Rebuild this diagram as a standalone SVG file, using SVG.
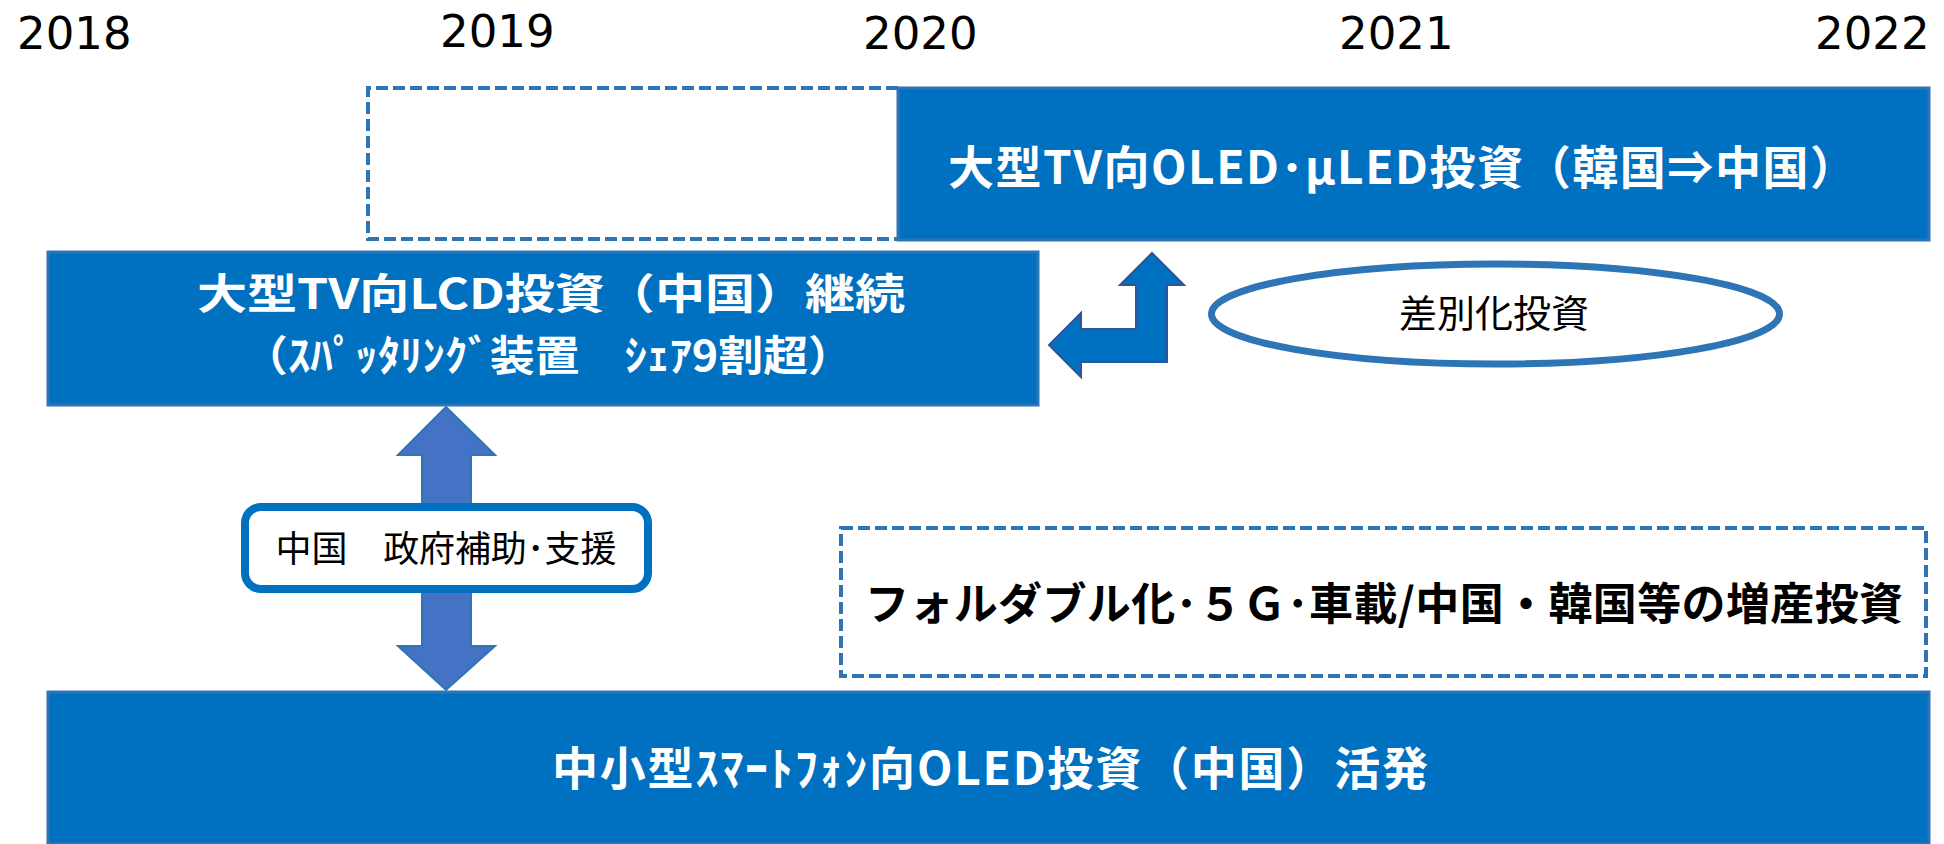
<svg xmlns="http://www.w3.org/2000/svg" width="1944" height="844" viewBox="0 0 1944 844">
<style>
.year{font-family:"DejaVu Sans","Liberation Sans",sans-serif;font-size:45px;fill:#000}
.box{fill:#0070C0;stroke:#2E75B6;stroke-width:3}
.wt{font-family:"Noto Sans CJK JP","DejaVu Sans",sans-serif;font-weight:bold;fill:#fff;text-anchor:middle}
.bt{font-family:"Noto Sans CJK JP","DejaVu Sans",sans-serif;fill:#000;text-anchor:middle}
.dash{fill:none;stroke:#2E75B6;stroke-width:4;stroke-dasharray:12 5}
</style>
<rect width="1944" height="844" fill="#fff"/>
<g id="years">
<text class="year" x="17" y="49">2018</text>
<text class="year" x="440" y="47">2019</text>
<text class="year" x="863" y="49">2020</text>
<text class="year" x="1339" y="49">2021</text>
<text class="year" x="1815" y="49">2022</text>
</g>
<g id="connectors">
<polygon points="1152,253 1184,285 1167,285 1167,362 1081,362 1081,377 1049,345 1081,313 1081,329 1136,329 1136,285 1120,285" fill="#0070C0" stroke="#2F5597" stroke-width="2"/>
<polygon points="446,407 495,455 471,455 471,646 495,646 446,690 398,646 422,646 422,455 398,455" fill="#4472C4" stroke="#2E75B6" stroke-width="2"/>
</g>
<g id="node-dashed-top">
<path class="dash" d="M898,88 H368 V239 H898"/>
</g>
<g id="node-oled-tv">
<rect class="box" x="898" y="88" width="1031" height="152"/>
<text class="wt" x="1402" y="184" font-size="46" textLength="908">大型TV向OLED･µLED投資（韓国⇒中国）</text>
</g>
<g id="node-lcd">
<rect class="box" x="48" y="252" width="990" height="153"/>
<text class="wt" x="551" y="309" font-size="42" textLength="708" lengthAdjust="spacingAndGlyphs">大型TV向LCD投資（中国）継続</text>
<text class="wt" x="548" y="371" font-size="42" textLength="610" lengthAdjust="spacingAndGlyphs">（ｽﾊﾟｯﾀﾘﾝｸﾞ装置　ｼｪｱ9割超）</text>
</g>
<g id="node-diff">
<ellipse cx="1495.5" cy="314" rx="284" ry="50" fill="#fff" stroke="#2E75B6" stroke-width="7"/>
<text class="bt" x="1494" y="327" font-size="38">差別化投資</text>
</g>
<g id="node-gov">
<rect x="245" y="507" width="403" height="82" rx="16" fill="#fff" stroke="#0070C0" stroke-width="8"/>
<text class="bt" x="446" y="562" font-size="36" textLength="341">中国　政府補助･支援</text>
</g>
<g id="node-foldable">
<rect class="dash" x="841" y="528" width="1085" height="148"/>
<text class="bt" x="1384" y="620" font-size="44" font-weight="bold" textLength="1038">フォルダブル化･５Ｇ･車載/中国・韓国等の増産投資</text>
</g>
<g id="node-smartphone">
<rect class="box" x="48" y="692" width="1881" height="152"/>
<text class="wt" x="990" y="785" font-size="46" textLength="876">中小型ｽﾏｰﾄﾌｫﾝ向OLED投資（中国）活発</text>
</g>
</svg>
